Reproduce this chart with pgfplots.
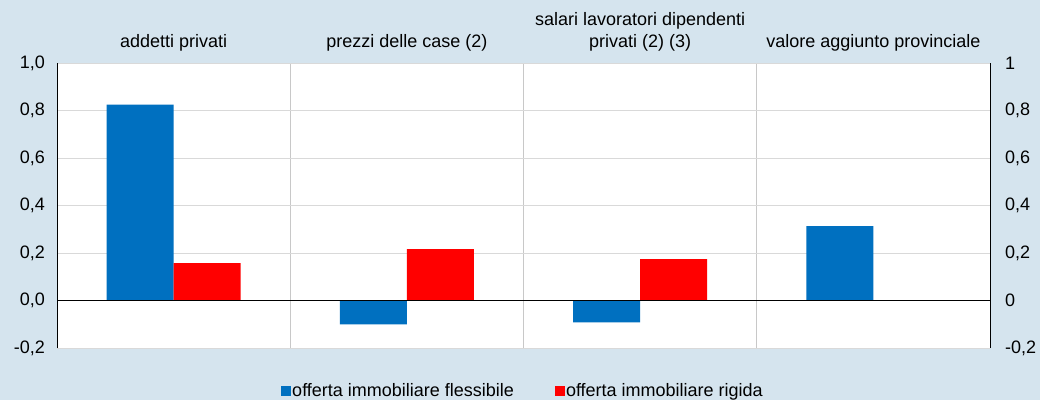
\documentclass[border=0pt]{standalone}
\usepackage{fontspec}
\setmainfont{Liberation Sans}
\usepackage{pgfplots}
\pgfplotsset{compat=1.18}
\definecolor{bgblue}{RGB}{213,228,238}
\definecolor{barblue}{RGB}{0,112,192}
\definecolor{barred}{RGB}{255,0,0}
\definecolor{gridgray}{RGB}{217,217,217}
\definecolor{sepgray}{RGB}{200,200,200}
\begin{document}
\fontsize{18}{22}\selectfont
\begin{tikzpicture}
\fill[bgblue] (0pt,0pt) rectangle (1040pt,400pt);
\useasboundingbox (0pt,0pt) rectangle (1040pt,400pt);
\begin{axis}[
  at={(57pt,52pt)}, anchor=south west,
  scale only axis, width=933pt, height=285pt,
  xmin=-0.5, xmax=3.5, ymin=-0.2, ymax=1.0,
  ybar=0pt, bar width=67pt,
  axis background/.style={fill=white},
  separate axis lines,
  x axis line style={draw=none},
  y axis line style={black, line width=0.9pt},
  major tick length=0pt, minor tick length=0pt,
  xtick={0,1,2,3},
  xticklabels={addetti privati, prezzi delle case (2), {salari lavoratori dipendenti\\privati (2) (3)}, valore aggiunto provinciale},
  xticklabel pos=upper,
  xticklabel style={align=center, anchor=south, inner sep=0pt, yshift=12pt, font=\fontsize{18}{22}\selectfont},
  minor xtick={0.5,1.5,2.5},
  xminorgrids=true, minor x grid style={sepgray, line width=0.8pt},
  ytick={-0.2,0,0.2,0.4,0.6,0.8,1.0},
  yticklabels={{-0,2},{0,0},{0,2},{0,4},{0,6},{0,8},{1,0}},
  ymajorgrids=true, major y grid style={gridgray, line width=0.8pt},
  yticklabel style={inner sep=0pt, xshift=-12pt, font=\fontsize{18}{22}\selectfont},
  legend style={draw=none, fill=none, at={(0.5,0)}, anchor=center, yshift=-43pt, xshift=-1pt,
    legend columns=2, font=\fontsize{18}{22}\selectfont,
    nodes={inner sep=1.5pt},
    /tikz/every even column/.append style={column sep=39pt}},
  legend image code/.code={\fill[#1] (0pt,-5pt) rectangle (10pt,5pt);},
]
\addplot[fill=barblue, draw=none] coordinates {(0,0.825) (1,-0.10) (2,-0.092) (3,0.313)};
\addplot[fill=barred, draw=none] coordinates {(0,0.157) (1,0.216) (2,0.174)};
\legend{offerta immobiliare flessibile, offerta immobiliare rigida}
\draw[black, line width=0.9pt] (axis cs:-0.5,0) -- (axis cs:3.5,0);
\end{axis}
\begin{axis}[
  at={(57pt,52pt)}, anchor=south west,
  scale only axis, width=933pt, height=285pt,
  xmin=-0.5, xmax=3.5, ymin=-0.2, ymax=1.0,
  axis line style={draw=none},
  xtick=\empty, major tick length=0pt,
  ytick={-0.2,0,0.2,0.4,0.6,0.8,1.0},
  yticklabels={{-0,2},{0},{0,2},{0,4},{0,6},{0,8},{1}},
  yticklabel pos=right,
  yticklabel style={inner sep=0pt, anchor=west, xshift=15pt, font=\fontsize{18}{22}\selectfont},
]
\addplot[draw=none] coordinates {(0,0)};
\end{axis}
\end{tikzpicture}
\end{document}
